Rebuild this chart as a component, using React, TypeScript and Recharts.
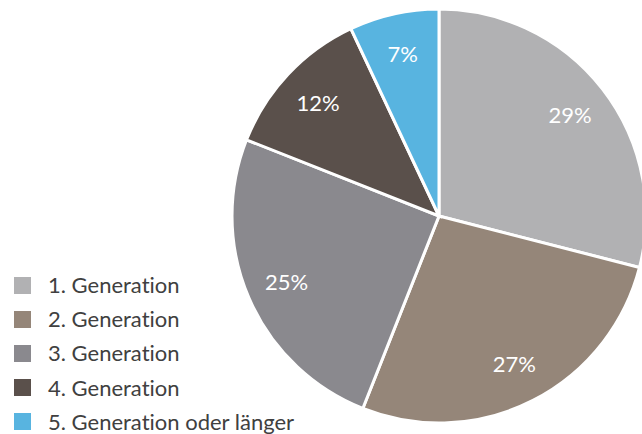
import { PieChart, Pie, Cell, Legend } from 'recharts';

const generations = [
  '1. Generation',
  '2. Generation',
  '3. Generation',
  '4. Generation',
  '5. Generation oder länger',
];
const shares = [29, 27, 25, 12, 7];
const colors = ['#b1b1b3', '#958679', '#8a898e', '#5a504b', '#58b4e0'];

const data = generations.map((name, i) => ({ name, value: shares[i] }));

const FONT = 'Lato, "Open Sans", sans-serif';
const RAD = Math.PI / 180;

function renderLabel({ cx, cy, midAngle, value }: any) {
  const r = 166;
  const x = cx + r * Math.cos(-midAngle * RAD);
  const y = cy + r * Math.sin(-midAngle * RAD);
  return (
    <text
      x={x}
      y={y}
      fill="#ffffff"
      fontSize={22}
      fontFamily={FONT}
      textAnchor="middle"
      dominantBaseline="central"
    >
      {value}%
    </text>
  );
}

function CustomLegend() {
  return (
    <div style={{ position: 'absolute', left: 14, top: 268 }}>
      {data.map((d, i) => (
        <div
          key={d.name}
          style={{
            display: 'flex',
            alignItems: 'center',
            height: 34.2,
            fontFamily: FONT,
            fontSize: 22,
            lineHeight: '22px',
            fontVariantLigatures: 'none',
            color: '#404040',
          }}
        >
          <span
            style={{
              width: 17,
              height: 17,
              backgroundColor: colors[i],
              marginRight: 17,
              flexShrink: 0,
            }}
          />
          <span>{d.name}</span>
        </div>
      ))}
    </div>
  );
}

export default function App() {
  return (
    <div style={{ position: 'absolute', left: 0, top: 0, width: 642, height: 434, background: '#fff', overflow: 'hidden' }}>
      <PieChart width={642} height={434} margin={{ top: 0, right: 0, bottom: 0, left: 0 }}>
        <Pie
          data={data}
          dataKey="value"
          nameKey="name"
          cx={439}
          cy={216}
          outerRadius={207}
          startAngle={90}
          endAngle={-270}
          stroke="#ffffff"
          strokeWidth={3}
          label={renderLabel}
          labelLine={false}
          isAnimationActive={false}
        >
          {data.map((d, i) => (
            <Cell key={d.name} fill={colors[i]} />
          ))}
        </Pie>
        <Legend content={() => null} />
      </PieChart>
      <CustomLegend />
    </div>
  );
}
